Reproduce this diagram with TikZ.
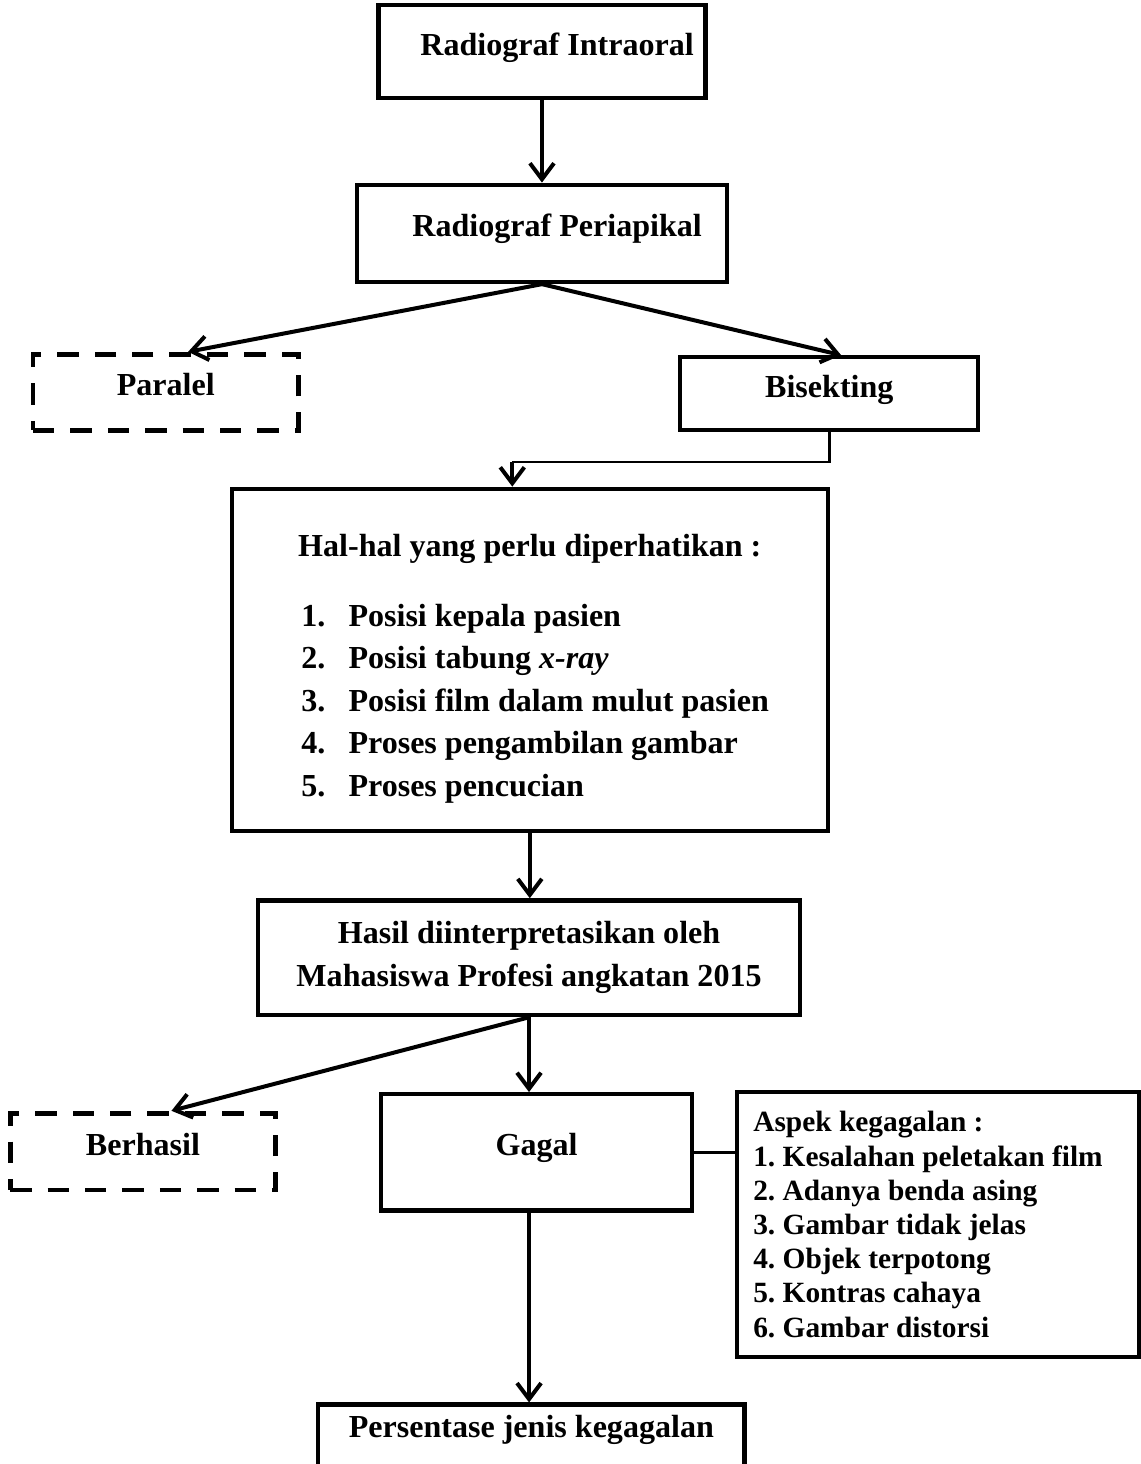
\documentclass[tikz,border=0pt]{standalone}
\usepackage{fontspec}
\setmainfont{Liberation Serif}
\usetikzlibrary{arrows.meta,positioning}
\frenchspacing

\newcommand{\itemno}[1]{\makebox[0.62cm][l]{#1}}

\tikzset{
  txt/.style={font=\bfseries\fontsize{12}{14}\selectfont},
  box/.style={draw, line width=1.6pt, txt, align=center},
  lift/.style={text height=8.5pt, text depth=5.8pt},
  dashbox/.style={box, lift, line width=1.8pt, dash pattern=on 8pt off 6pt},
  arr/.style={line width=1.5pt, -{Straight Barb[length=6pt,width=9pt]}}
}

\begin{document}
\begin{tikzpicture}
\clip (0,0) rectangle (15.01,-19.26);
\node[box, lift, minimum width=4.30cm, minimum height=1.22cm] (intra) at (7.13,-0.68) {\hspace*{0.4cm}Radiograf Intraoral};
\node[box, lift, minimum width=4.87cm, minimum height=1.28cm] (peri) at (7.13,-3.07) {\hspace*{0.4cm}Radiograf Periapikal};
\node[dashbox, minimum width=3.49cm, minimum height=1.00cm] (paralel) at (2.18,-5.16) {Paralel};
\node[box, lift, minimum width=3.92cm, minimum height=0.96cm] (bisek) at (10.91,-5.18) {Bisekting};
% kotak hal-hal yang perlu diperhatikan
\node[box, minimum width=7.84cm, minimum height=4.50cm] (hal) at (6.97,-8.68) {};
\node[txt, inner sep=0pt, below=0.62cm of hal.north] (haltitle) {Hal-hal yang perlu diperhatikan :};
\node[inner sep=0pt, below=1.54cm of hal.north, xshift=0.07cm, align=left,
      font=\bfseries\fontsize{12}{15.9}\selectfont] (hallist)
  {\itemno{1.}Posisi kepala pasien\\
   \itemno{2.}Posisi tabung \textit{x-ray}\\
   \itemno{3.}Posisi film dalam mulut pasien\\
   \itemno{4.}Proses pengambilan gambar\\
   \itemno{5.}Proses pencucian};
\node[box, minimum width=7.13cm, minimum height=1.51cm, font=\bfseries\fontsize{12}{16}\selectfont] (hasil) at (6.96,-12.60)
  {Hasil diinterpretasikan oleh\\Mahasiswa Profesi angkatan 2015};
\node[dashbox, minimum width=3.49cm, minimum height=1.01cm] (berhasil) at (1.88,-15.15) {Berhasil};
\node[box, lift, minimum width=4.09cm, minimum height=1.53cm] (gagal) at (7.06,-15.16) {Gagal};
\node[box, minimum width=5.28cm, minimum height=3.49cm, text width=4.86cm, inner xsep=0.21cm, align=flush left,
      font=\bfseries\fontsize{11}{12.8}\selectfont] (aspek) at (12.34,-16.11)
  {Aspek kegagalan :\\
   1. Kesalahan peletakan film\\
   2. Adanya benda asing\\
   3. Gambar tidak jelas\\
   4. Objek terpotong\\
   5. Kontras cahaya\\
   6. Gambar distorsi};
\node[box, anchor=north, minimum width=5.61cm, text height=9.5pt, text depth=18.3pt, inner ysep=3pt] (persen) at (6.99,-18.45) {Persentase jenis kegagalan};
% panah
\draw[arr] (intra.south) -- (peri.north);
\draw[arr] (peri.south) -- (paralel.61);
\draw[arr] (peri.south) -- (bisek.73);
\coordinate (elbow) at (6.74,-6.08);
\draw[line width=1pt] (bisek.south) |- (elbow);
\draw[arr] (elbow) -- (elbow |- hal.north);
\draw[arr] (hal.south) -- (hal.south |- hasil.north);
\draw[arr] (hasil.south) -- (berhasil.55);
\draw[arr] (hasil.south) -- (hasil.south |- gagal.north);
\draw[line width=1.2pt] (gagal.east) -- (gagal.east -| aspek.west);
\draw[arr] (hasil.south |- gagal.south) -- (hasil.south |- persen.north);
\end{tikzpicture}
\end{document}
